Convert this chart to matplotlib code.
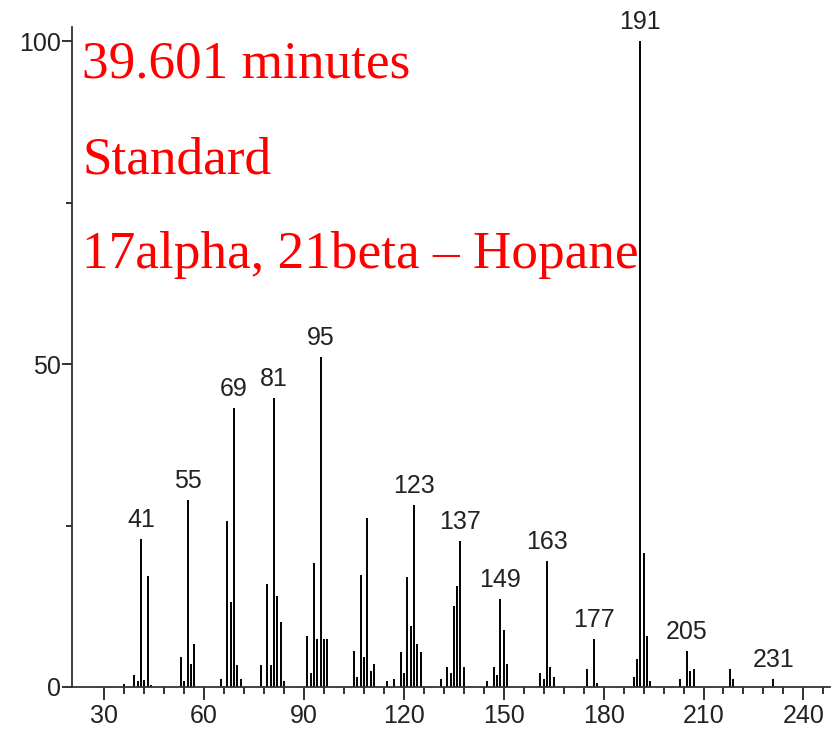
import numpy as np
import matplotlib
matplotlib.use("Agg")
import matplotlib.pyplot as plt
from matplotlib.ticker import MultipleLocator

# mass spectrum of 17alpha,21beta-hopane
mz = [36, 39, 40, 41, 42, 43, 44,
      53, 54, 55, 56, 57,
      65, 67, 68, 69, 70, 71,
      77, 79, 80, 81, 82, 83, 84,
      91, 92, 93, 94, 95, 96, 97,
      105, 106, 107, 108, 109, 110, 111,
      115, 117, 119, 120, 121, 122, 123, 124, 125,
      131, 133, 134, 135, 136, 137, 138,
      145, 147, 148, 149, 150, 151,
      161, 162, 163, 164, 165,
      175, 177, 178,
      189, 190, 191, 192, 193, 194,
      203, 205, 206, 207,
      218, 219, 231]
intensity = [0.5, 1.9, 0.9, 22.9, 1.1, 17.2, 0.3,
             4.7, 0.9, 28.9, 3.5, 6.6,
             1.2, 25.7, 13.2, 43.2, 3.4, 1.2,
             3.4, 16.0, 3.4, 44.7, 14.1, 10.0, 0.9,
             7.9, 2.2, 19.2, 7.5, 51.1, 7.5, 7.5,
             5.6, 1.6, 17.3, 4.7, 26.1, 2.5, 3.5,
             0.9, 1.2, 5.4, 2.2, 17.0, 9.4, 28.2, 6.6, 5.4,
             1.2, 3.1, 2.2, 12.5, 15.7, 22.6, 3.1,
             0.9, 3.1, 1.9, 13.6, 8.8, 3.5,
             2.2, 1.2, 19.5, 3.1, 1.6,
             2.8, 7.5, 0.6,
             1.6, 4.3, 100.0, 20.8, 7.9, 0.9,
             1.2, 5.6, 2.5, 2.8,
             2.8, 1.2, 1.2]
labeled = [41, 55, 69, 81, 95, 123, 137, 149, 163, 177, 191, 205, 231]

info_lines = ["39.601 minutes", "Standard", "17alpha, 21beta \u2013 Hopane"]

fig = plt.figure(figsize=(8.38, 7.29), dpi=100)
ax = fig.add_axes([72/838, 1-687/729, 758/838, 660/729])

ax.vlines(mz, 0, intensity, colors="black", linewidth=1.4)

lookup = dict(zip(mz, intensity))
for m in labeled:
    ax.annotate(str(m), (m, lookup[m]), xytext=(0, 5), textcoords="offset points",
                ha="center", va="bottom", fontsize=18, family="Liberation Sans",
                color="#222222")

ax.set_xlim(20.3, 248)
ax.set_ylim(0, 102.2)
ax.set_xticks(np.arange(30, 241, 30))
ax.set_xticks(np.arange(30, 247, 6), minor=True)
ax.set_yticks([0, 50, 100])
ax.set_yticks([25, 75], minor=True)

for s in ["top", "right"]:
    ax.spines[s].set_visible(False)
for s in ["left", "bottom"]:
    ax.spines[s].set_linewidth(1.3)
    ax.spines[s].set_color("#333333")

ax.tick_params(axis="x", which="major", length=9, width=1.3, pad=3, labelsize=18, colors="#222222")
ax.tick_params(axis="x", which="minor", length=5, width=1.3, colors="#222222")
ax.tick_params(axis="y", which="major", length=7, width=1.3, pad=1, labelsize=18, colors="#222222")
ax.tick_params(axis="y", which="minor", length=4, width=1.3, colors="#222222")
for lab in ax.get_xticklabels() + ax.get_yticklabels():
    lab.set_family("Liberation Sans")

baselines = [78, 173, 268]
for txt, yb in zip(info_lines, baselines):
    fig.text(82/838, 1-yb/729, txt, color="red", fontsize=38.3, family="Liberation Serif",
             ha="left", va="baseline")

fig.savefig("out.png", dpi=100)
